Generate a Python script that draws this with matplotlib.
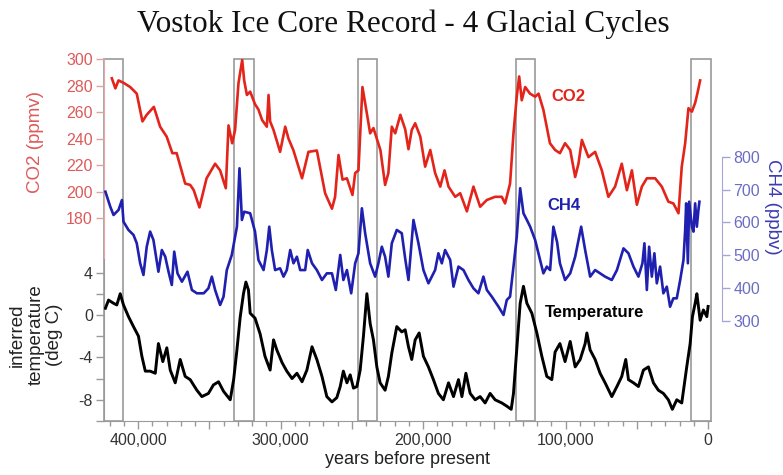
import matplotlib
matplotlib.use("Agg")
import matplotlib.pyplot as plt
from matplotlib.ticker import MultipleLocator, FuncFormatter, FixedLocator
import numpy as np

plt.rcParams['font.family'] = ['Liberation Sans', 'DejaVu Sans']

# ---- data (age in thousand years before present, value) ----
co2 = [
(418.5,285.6),(416,278),(413.8,284),(410,282),(405.6,279),(401,274),(397,253),(394,258),(389,264),(384.6,249),
(380,241.5),(376,229),(373,229),(367,206),(363.5,205),(361,201),(357,188),(352,210),(346,221),(342.5,216),
(338.5,202.5),(336.6,250),(334,236.5),(332,246.5),(329.6,282),(327,299.5),(325.6,284),(323.7,273),(321.4,275.5),(318,266),
(315.6,262),(313,254),(309.7,249),(308.5,273),(307.4,253),(305,246.5),(300.4,230),(296.8,249),(294.5,240),(291,231),
(285,210),(280.5,230),(274.6,231),(268.8,198.7),(264,187),(261.8,196),(259.4,227.6),(256.6,209),(253.5,210),(249.6,197.4),
(247.7,214),(245.4,216),(242.6,279),(239.5,259),(237.2,244),(234.9,248),(230,231.4),(226.7,205),(224.4,214),(222,249),
(219.6,244),(216,258),(212.6,247),(210.3,232),(208,246.5),(205.6,251.6),(202,241.5),(198.6,218.8),(195,231.4),(191.6,214),
(188,203.7),(185,216),(182.2,203.7),(177.5,196),(174,198.7),(169.3,185),(164.7,203.7),(160,188.5),(155.3,193.6),(149.5,196),
(144.8,196),(142.5,191),(139,206),(136.6,244),(134.3,271.7),(132.6,287),(130.8,269),(128.4,279),(125,274),(121.4,271.7),
(119,274),(115.6,261.7),(111,236.5),(107.4,231.4),(104,229),(100.4,236.5),(96.8,231.4),(93.3,211),(91,221),(88.6,239),
(84,226),(79.3,230),(74.6,216),(70,196),(65.3,203.7),(60.6,221),(57,201),(53.5,216),(50,190),(46.5,203.7),
(43,210),(37.2,210),(32.5,203.7),(27.9,192.3),(24.4,191),(20.8,183.6),(18.5,218.8),(16.1,236.5),(13.8,263),(11.4,260.4),
(9.1,267),(7.5,274.3),(5.6,284),
]

ch4 = [
(423,693.5),(419.6,648),(417.3,622.6),(413.8,637.8),(411.4,668),(410.3,602),(406.8,577),(403.3,562),(401,536.5),(398.6,475.6),
(396.3,440),(394,526),(391.6,572),(389.3,546.5),(385.8,450),(383.4,516),(381,495.6),(378.7,450),(376.4,409.6),(374.7,511),
(372.4,445),(369.3,419.6),(365.4,450),(362.3,394.4),(358.8,384.3),(354,384.3),(350.7,399.5),(348.3,434.8),(346,394.4),(342.5,348.7),
(340.1,374),(337.8,455),(334.3,501),(330.7,587),(328.9,764.7),(327.2,607.4),(325.6,632.6),(321.4,627.8),(318,572),(315.6,485.6),
(314.4,475.6),(312,455),(309.7,516),(308,587),(306.2,516),(303.9,455),(300.4,460.4),(298,435),(295.7,455),(293.3,516),
(291,475.6),(288.6,495.6),(286.3,455),(282.8,455),(281,516),(278,475.6),(274.6,455),(271,424.8),(267.6,445),(264,445),
(261.3,394.4),(258.2,501),(256,424.8),(253.5,455),(250.5,384.3),(247.7,475.6),(245.4,506),(243,643),(240.7,567),(237.2,475.6),
(233.7,435),(231.4,475.6),(229,526),(226.7,495.6),(224.4,435),(222,536.5),(218.5,577),(215,567),(212.6,490),(210.3,424.8),
(206.8,607.4),(203.3,536.5),(199.8,455),(196.3,414.7),(191.6,455),(189.3,506),(186.9,475.6),(184.6,516),(181,485.6),(178.7,404.5),
(175.2,465.5),(171.7,455),(168.2,424.8),(164.7,399.5),(161.2,384.3),(157.7,435),(155.3,394.4),(151.8,374),(147.1,343.5),(143.6,318.3),
(141.3,364),(139,374),(136.6,465.5),(134.3,556.5),(131.9,704),(129.6,627.8),(127.2,607.4),(124.9,587),(121.4,546.5),(117.9,485.6),
(115.6,445),(113.2,465.5),(110.9,455),(108.6,587),(106,540),(104,475.6),(100.4,424.8),(96.8,445),(93.3,495.6),(89.1,587),
(86.3,516),(82.8,435),(79.3,455),(75.8,445),(72.3,435),(67.6,424.8),(64,455),(59.4,521),(55.9,506),(52.4,465.5),
(48.9,435),(46.1,475.6),(44.7,536.5),(43,394.4),(41.4,526),(39.5,435),(37.7,506),(36,414.7),(33.7,465.5),(31.4,384.3),
(29,404.5),(26.7,343.5),(24.4,369),(22,369),(19.6,424.8),(17.3,485.6),(16.1,577),(15.4,658),(14.2,475.6),(13.3,663),
(11.4,587),(10.3,572),(9.1,658),(7.9,587),(6.8,638),(6.1,663),
]

temp = [
(423,0.63),(420.8,1.4),(417.3,1.1),(415,0.94),(412.6,2.0),(410.3,0.94),(406.8,-0.16),(403.3,-1.1),(399.8,-2.0),(397.4,-3.9),
(395,-5.3),(391.6,-5.3),(388,-5.5),(385.8,-2.7),(382.7,-4.4),(379.9,-3.1),(377.5,-5.2),(374,-6.4),(370.5,-4.2),(367,-5.8),
(363.5,-6.1),(358.8,-7.1),(355.3,-7.7),(350.7,-7.4),(347.2,-6.6),(343.6,-6.3),(340.1,-7.2),(335.4,-8.0),(333,-6.1),(330.7,-3.3),
(328.4,-0.2),(326.1,2.0),(324.4,3.1),(322.6,2.35),(321.4,0.16),(318,-0.3),(314.4,-1.8),(311,-3.9),(307.4,-5.2),(305,-2.35),
(302.7,-3.3),(299,-4.5),(295.7,-5.3),(292,-6.0),(288.6,-5.5),(285,-6.3),(281.6,-5.2),(278,-3.0),(274.6,-4.2),(271,-5.8),
(267.6,-7.7),(264,-8.2),(260.6,-7.8),(258.2,-6.75),(256,-5.3),(253.5,-6.4),(251.2,-5.65),(248.9,-6.9),(246.5,-6.75),(244.2,-5.2),
(241.9,-2.0),(239.5,2.0),(237.2,-0.8),(234.9,-2.35),(232.5,-4.9),(230.2,-6.4),(226.7,-7.1),(224.4,-5.8),(222,-3.6),(218.5,-1.1),
(215,-1.6),(212.6,-1.4),(210.3,-3.0),(208,-4.2),(205.6,-2.35),(202.8,-1.7),(199.8,-3.9),(196.3,-4.9),(192.8,-6.1),(189.3,-7.4),
(185.8,-8.0),(182.2,-6.4),(178.7,-7.7),(175.2,-6.1),(172.8,-7.7),(170,-5.5),(167,-7.4),(163.5,-8.0),(160,-7.7),(156.5,-8.3),
(153,-7.4),(149.5,-8.0),(144.8,-8.3),(141.3,-8.6),(138.2,-8.9),(136.6,-7.4),(134.3,-3.3),(131.9,1.1),(129.6,2.7),(127.2,1.1),
(123.7,0.16),(120.2,-1.7),(116.7,-3.9),(113.2,-5.8),(109.7,-6.1),(107.4,-3.5),(104,-2.7),(100.4,-4.4),(96.8,-2.5),(93.3,-4.9),
(89.8,-4.2),(86.3,-2.7),(85.1,-1.7),(82.8,-3.3),(79.3,-4.2),(75.8,-5.5),(72.3,-6.4),(67.6,-7.7),(64,-6.75),(60.6,-5.8),
(57.8,-4.2),(55.9,-6.1),(52.4,-6.4),(48.9,-6.75),(45.4,-5.2),(41.9,-4.9),(38.4,-6.4),(34.9,-7.1),(31.4,-7.4),(27.9,-8.0),
(25.1,-8.9),(22,-8.0),(18.5,-8.3),(15,-4.9),(12.6,-2.7),(11,-0.16),(9.1,1.1),(7.9,2.0),(5.6,-0.5),(3.3,0.47),(0.9,-0.16),(0,0.8),
]

# interglacial boxes (start, end) in thousand years BP
boxes = [(424, 410.5), (332.5, 319), (246, 232.5), (135, 121.5), (12.2, -2)]

co2_ticks = [180, 200, 220, 240, 260, 280, 300]
ch4_ticks = [300, 400, 500, 600, 700, 800]
temp_major = [4, 0, -4, -8]
temp_minor = [2, -2, -6, -10]
x_labeled = [400000, 300000, 200000, 100000, 0]

RED = '#e3241b'
RED_AX = '#dd5a5a'
BLUE = '#1f1fb0'
BLUE_AX = '#6c6cc4'
GRAY = '#9a9a9a'

def split(points):
    a = np.array(points, dtype=float)
    return a[:, 0] * 1000.0, a[:, 1]

fig = plt.figure(figsize=(7.83, 4.75), dpi=100)
ax = fig.add_axes([0.1328, 0.1137, 0.7752, 0.7621])
ax_co2 = ax.twinx()
ax_ch4 = ax.twinx()

ax.set_xlim(424000, -2000)
ax.set_ylim(-10, 24.13)
ax_co2.set_ylim(26.5, 300.2)
ax_ch4.set_ylim(-4.3, 1097.3)

for a in (ax, ax_co2, ax_ch4):
    a.patch.set_visible(False)
    for s in a.spines.values():
        s.set_visible(False)

# boxes
for b0, b1 in boxes:
    ax.axvspan(b1 * 1000, b0 * 1000, ymin=0, ymax=1, fill=False,
               edgecolor=GRAY, lw=1.2, clip_on=False, zorder=1)

# series
x, y = split(temp)
ax.plot(x, y, color='black', lw=2.1, zorder=3)
x, y = split(co2)
ax_co2.plot(x, y, color=RED, lw=1.9, zorder=3)
x, y = split(ch4)
ax_ch4.plot(x, y, color=BLUE, lw=1.9, zorder=3)

# x axis
ax.spines['bottom'].set_visible(True)
ax.spines['bottom'].set_color(GRAY)
ax.xaxis.set_major_locator(MultipleLocator(50000))
ax.xaxis.set_minor_locator(MultipleLocator(10000))
ax.xaxis.set_major_formatter(FuncFormatter(
    lambda v, p: (f"{int(round(v)):,}" if int(round(v)) in x_labeled else "")))
ax.tick_params(axis='x', which='major', length=6, width=1, color=GRAY,
               labelsize=11.5, labelcolor='#333333', pad=3)
ax.tick_params(axis='x', which='minor', length=3.5, width=1, color=GRAY)
ax.set_xlabel('years before present', fontsize=13, color='#222222', labelpad=2)

# temperature axis (left, lower)
ax.spines['left'].set_visible(True)
ax.spines['left'].set_color(GRAY)
ax.spines['left'].set_bounds(-10, 6)
ax.yaxis.set_major_locator(FixedLocator(temp_major))
ax.yaxis.set_minor_locator(FixedLocator(temp_minor))
ax.yaxis.set_major_formatter(FuncFormatter(lambda v, p: f"{int(v)}"))
ax.tick_params(axis='y', which='both', length=6, width=1, color=GRAY,
               labelsize=11.5, labelcolor='#333333', pad=2)

# CO2 axis (left, upper)
ax_co2.yaxis.tick_left()
ax_co2.spines['left'].set_visible(True)
ax_co2.spines['left'].set_color('#e8a5a5')
ax_co2.spines['left'].set_bounds(150, 300.2)
ax_co2.set_yticks(co2_ticks)
ax_co2.tick_params(axis='y', length=6, width=1, color='#e0a0a0',
                   labelsize=11.5, labelcolor=RED_AX, pad=2)

# CH4 axis (right, offset)
ax_ch4.spines['right'].set_visible(True)
ax_ch4.spines['right'].set_position(('outward', 8))
ax_ch4.spines['right'].set_color('#a5a5d8')
ax_ch4.spines['right'].set_bounds(300, 800)
ax_ch4.set_yticks(ch4_ticks)
ax_ch4.tick_params(axis='y', length=6, width=1, color='#a5a5d8',
                   labelsize=11.5, labelcolor=BLUE_AX, pad=2)

# axis titles
fig.text(35 / 783, 1 - 142 / 475, 'CO2 (ppmv)', rotation=90, color=RED_AX,
         fontsize=13.5, ha='center', va='center')
fig.text(36 / 783, 1 - 335 / 475, 'inferred\ntemperature\n(deg C)', rotation=90,
         color='#222222', fontsize=13.5, ha='center', va='center', linespacing=1.15)
fig.text(773 / 783, 1 - 207 / 475, 'CH4 (ppbv)', rotation=270, color='#3c3cb0',
         fontsize=13.5, ha='center', va='center')

# series labels
ax_co2.text(110000, 271.5, 'CO2', color=RED, fontsize=12, fontweight='bold',
            ha='left', va='center')
ax_ch4.text(113000, 650, 'CH4', color=BLUE, fontsize=12, fontweight='bold',
            ha='left', va='center')
ax.text(114400, 0.2, 'Temperature', color='black', fontsize=12, fontweight='bold',
        ha='left', va='center')

fig.text(403 / 783, 1 - 24 / 475, 'Vostok Ice Core Record - 4 Glacial Cycles',
         family=['Liberation Serif', 'DejaVu Serif'], fontsize=22.5,
         ha='center', va='center', color='#111111')

fig.savefig('out.png', dpi=100)
